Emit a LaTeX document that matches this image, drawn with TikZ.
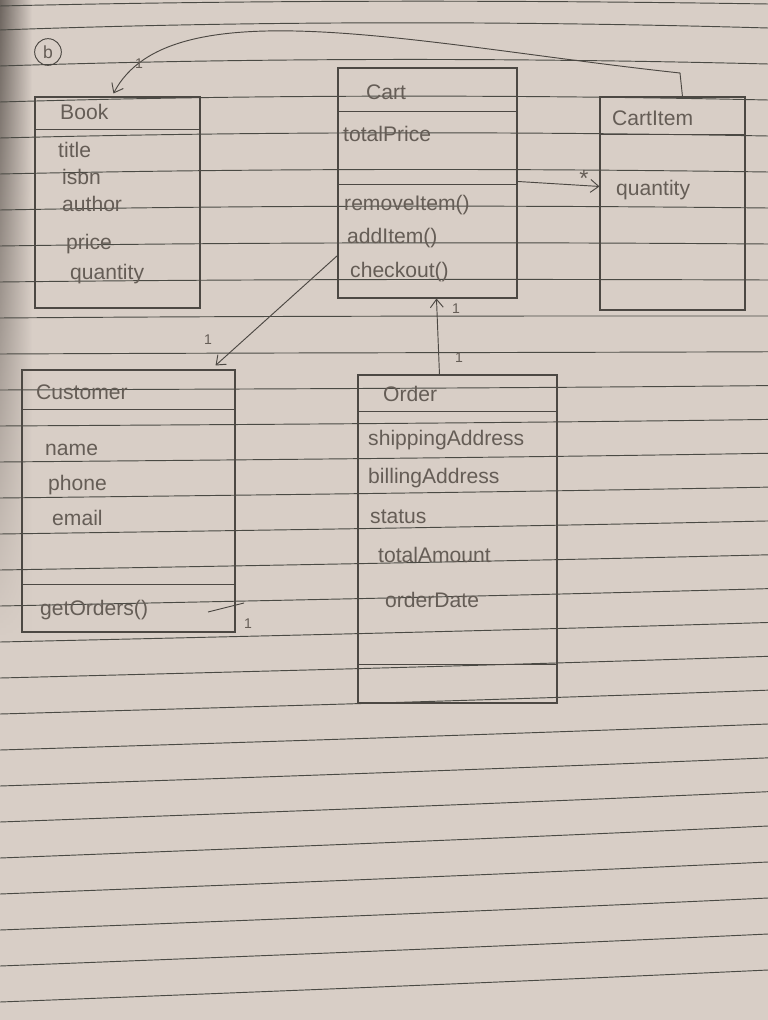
\documentclass[tikz,border=0pt]{standalone}
\usepackage{fontspec}
\setmainfont{Liberation Sans}
\usetikzlibrary{arrows.meta,calc,fit,fadings}
\definecolor{paperc}{HTML}{D8CEC6}
\definecolor{paperdark}{HTML}{6E6660}
\definecolor{rulec}{HTML}{4A4A44}
\definecolor{inkc}{HTML}{4C4843}
\definecolor{pencil}{HTML}{655D56}
\begin{document}
\begin{tikzpicture}[x=0.03cm,y=-0.03cm,
  box/.style={draw=inkc, line width=0.9pt, inner sep=0pt},
  sep/.style={draw=inkc, line width=0.9pt},
  txt/.style={text=pencil, font=\fontsize{18}{20}\selectfont, anchor=west, inner sep=0pt},
  mult/.style={text=pencil, font=\fontsize{12}{13}\selectfont, inner sep=0pt},
  assoc/.style={draw=inkc, line width=0.8pt, -{Straight Barb[length=7pt,width=11pt]}},
  rulestyle/.style={draw=rulec, line width=0.8pt}]

\useasboundingbox (0,0) rectangle (768,1020);

% paper
\begin{scope}
\clip (0,0) rectangle (768,1020);
\fill[paperc] (0,0) rectangle (768,1020);
\shade[left color=paperdark, right color=paperc, path fading=south] (0,0) rectangle (32,640);
\draw[rulestyle] (0,6) .. controls (256,0) and (512,0) .. (768,4);
\foreach \k in {0,...,27} {
  \pgfmathsetmacro\yl{30+36*\k}
  \pgfmathsetmacro\tl{max(0,min(30,(\yl-350)*0.06))}
  \pgfmathsetmacro\bp{max(0,10-\yl*0.025)}
  \pgfmathsetmacro\ya{\yl-\bp-\tl/3}
  \pgfmathsetmacro\yb{\yl-\bp-2*\tl/3}
  \pgfmathsetmacro\yr{\yl-\tl-2}
  \draw[rulestyle] (0,\yl) .. controls (256,\ya) and (512,\yb) .. (768,\yr);
}
\end{scope}

% label (b)
\node[draw=inkc, circle, line width=0.8pt, minimum size=0.8cm, inner sep=0pt, text=pencil, font=\fontsize{15}{16}\selectfont] (partb) at (48,52) {b};

% class boxes
\node[box, fit={(35,97) (200,308)}] (book) {};
\node[box, fit={(338,68) (517,298)}] (cart) {};
\node[box, fit={(600,97) (745,310)}] (cartitem) {};
\node[box, fit={(22,370) (235,632)}] (customer) {};
\node[box, fit={(358,375) (557,703)}] (order) {};

% separators
\draw[sep] ($(book.north west)+(0,33)$) -- ($(book.north east)+(0,33)$);
\draw[sep] ($(cart.north west)+(0,44)$) -- ($(cart.north east)+(0,44)$);
\draw[sep] ($(cart.north west)+(0,117)$) -- ($(cart.north east)+(0,117)$);
\draw[sep] ($(cartitem.north west)+(0,38)$) -- ($(cartitem.north east)+(0,38)$);
\draw[sep] ($(customer.north west)+(0,40)$) -- ($(customer.north east)+(0,40)$);
\draw[sep] ($(customer.north west)+(0,215)$) -- ($(customer.north east)+(0,215)$);
\draw[sep] ($(order.north west)+(0,37)$) -- ($(order.north east)+(0,37)$);
\draw[sep] ($(order.north west)+(0,290)$) -- ($(order.north east)+(0,290)$);

% Book
\node[txt] (bookname) at (60,112) {Book};
\node[txt] (btitle) at (58,150) {title};
\node[txt] (bisbn) at (62,177) {isbn};
\node[txt] (bauthor) at (62,204) {author};
\node[txt] (bprice) at (66,244) {price};
\node[txt] (bqty) at (70,274) {quantity};

% Cart
\node[txt] (cartname) at (366,92) {Cart};
\node[txt] (ctotal) at (343,134) {totalPrice};
\node[txt] (cremove) at (344,205) {removeItem()};
\node[txt] (cadd) at (347,238) {addItem()};
\node[txt] (ccheck) at (350,272) {checkout()};

% CartItem
\node[txt] (ciname) at (612,118) {CartItem};
\node[txt] (ciqty) at (616,190) {quantity};

% Customer
\node[txt] (custname) at (36,392) {Customer};
\node[txt] (cuname) at (45,450) {name};
\node[txt] (cuphone) at (48,485) {phone};
\node[txt] (cuemail) at (52,518) {email};
\node[txt] (cuget) at (40,610) {getOrders()};

% Order
\node[txt] (ordname) at (383,394) {Order};
\node[txt] (oship) at (368,440) {shippingAddress};
\node[txt] (obill) at (368,478) {billingAddress};
\node[txt] (ostatus) at (370,517) {status};
\node[txt] (ototal) at (378,555) {totalAmount};
\node[txt] (odate) at (385,600) {orderDate};

% connectors
\coordinate (ciBend) at (680,73);
\coordinate (bookTip) at ($(book.north west)+(79,-3)$);
\draw[assoc] ($(cartitem.north west)+(83,0)$) -- (ciBend) .. controls (420,45) and (170,-15) .. (bookTip);
\node[mult] (m1) at (139,64) {1};

\draw[assoc] ($(cart.north east)+(0,114)$) -- ($(cartitem.north west)+(0,90)$);
\node[mult, font=\fontsize{20}{20}\selectfont] (m2) at (584,178) {*};

\draw[assoc] ($(cart.south west)+(0,-43)$) -- ($(customer.north east)+(-20,-4)$);
\node[mult] (m3) at (208,340) {1};

\draw[assoc] ($(order.north west)+(82,0)$) -- ($(cart.south west)+(99,0)$);
\node[mult] (m4) at (456,309) {1};
\node[mult] (m5) at (459,358) {1};

% mark near getOrders()
\coordinate (gA) at (208,612);
\coordinate (gB) at (244,603);
\draw[inkc, line width=0.8pt] (gA) -- (gB);
\node[mult] (m6) at (248,624) {1};
\end{tikzpicture}
\end{document}
